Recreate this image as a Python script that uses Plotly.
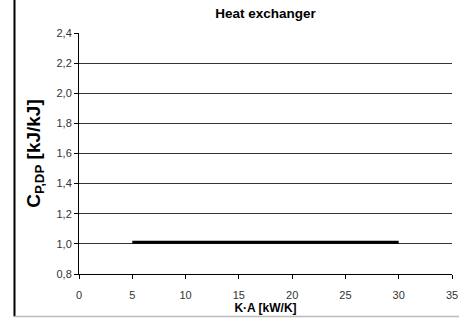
import plotly.graph_objects as go

ka = [5, 10, 15, 20, 25, 30]
cp_dp = [1.01, 1.01, 1.01, 1.01, 1.01, 1.01]
x_ticks = [0, 5, 10, 15, 20, 25, 30, 35]
y_ticks = [0.8, 1.0, 1.2, 1.4, 1.6, 1.8, 2.0, 2.2, 2.4]

W, H = 459, 318
L, R, T, B = 79, 7, 33, 44
pw, ph = W - L - R, H - T - B

fig = go.Figure()
fig.add_trace(go.Scatter(x=ka, y=cp_dp, mode="lines",
                         line=dict(color="black", width=3), showlegend=False))

frame_x = (14.5 - L) / pw
bottom_y = -(316.5 - (T + ph)) / ph

fig.update_layout(
    width=W, height=H,
    margin=dict(l=L, r=R, t=T, b=B, autoexpand=False),
    paper_bgcolor="white", plot_bgcolor="white",
    separators=",.",
    font=dict(family="Arial, Liberation Sans, sans-serif", color="#333", size=11),
    title=dict(text="<b>Heat exchanger</b>", x=(L + pw / 2) / W, xanchor="center",
               y=1 - 13 / H, yanchor="middle", font=dict(size=13.5, color="black")),
    xaxis=dict(range=[0, 35], tickvals=x_ticks, ticks="outside", ticklen=4,
               tickcolor="black", showline=True, linecolor="black", linewidth=1,
               showgrid=False, zeroline=False, automargin=False,
               ticklabelstandoff=7,
               title=dict(text="<b>K·A [kW/K]</b>", standoff=2,
                          font=dict(size=12, color="black"))),
    yaxis=dict(range=[0.8, 2.4], tickvals=y_ticks, tickformat=".1f",
               ticks="outside", ticklen=4, tickcolor="black",
               showline=True, linecolor="black", linewidth=1, automargin=False,
               showgrid=True, gridcolor="#333", gridwidth=1, zeroline=False,
               title=dict(text="<b>C<sub>P,DP</sub> [kJ/kJ]</b>", standoff=10,
                          font=dict(size=19, color="black"))),
    shapes=[
        dict(type="line", xref="paper", yref="paper",
             x0=frame_x, x1=frame_x, y0=(H - T) / ph + 0.02, y1=bottom_y,
             line=dict(color="black", width=2)),
        dict(type="line", xref="paper", yref="paper",
             x0=frame_x, x1=(W - L) / pw, y0=bottom_y, y1=bottom_y,
             line=dict(color="#bbb", width=1.5)),
    ],
)
fig.write_html("out.html", config={"displayModeBar": False},
               post_script="document.body.style.margin='0';document.body.style.overflow='hidden';")
